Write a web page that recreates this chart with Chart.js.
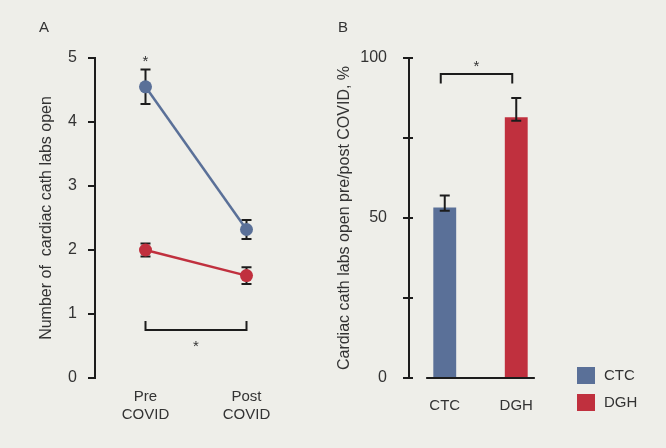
<!DOCTYPE html>
<html>
<head>
<meta charset="utf-8">
<script src="https://cdn.jsdelivr.net/npm/chart.js@4"></script>
<style>
  html, body { margin: 0; padding: 0; background: #eeeee9; }
  #wrap { position: relative; width: 666px; height: 448px; }
  canvas { position: absolute; top: 0; }
  #cA { left: 0; }
  #cB { left: 333px; }
  .lbl { position: absolute; font: 15px "Liberation Sans", sans-serif; color: #333; }
</style>
</head>
<body>
<div id="wrap">
  <canvas id="cA" width="333" height="448"></canvas>
  <canvas id="cB" width="333" height="448"></canvas>
  <div class="lbl" style="left:39px;top:18px;">A</div>
  <div class="lbl" style="left:338px;top:18px;">B</div>
</div>
<script>
// Panel A: labs open pre/post COVID
const periodos = [['Pre', 'COVID'], ['Post', 'COVID']];
const ctcMedia = [4.55, 2.32];
const ctcError = [0.27, 0.15];
const dghMedia = [2.0, 1.6];
const dghError = [0.1, 0.13];

// Panel B: % open pre/post
const centros = ['CTC', 'DGH'];
const porcentaje = [53.3, 81.5];
const porcentajeErrSup = [3.7, 6.0];
const porcentajeErrInf = [1.0, 1.1];

const azul = '#5a7098';
const rojo = '#c0303e';
const negro = '#1c1c1c';
const texto = '#333333';
const fuente = '"Liberation Sans", sans-serif';

Chart.defaults.font.family = fuente;
Chart.defaults.color = texto;
Chart.defaults.animation = false;

// barras de error (usa los arrays de cada dataset)
function dibujarErrores(chart) {
  const ctx = chart.ctx;
  ctx.save();
  ctx.strokeStyle = negro;
  ctx.lineWidth = 2;
  chart.data.datasets.forEach((ds, i) => {
    if (!ds.errSup) return;
    const meta = chart.getDatasetMeta(i);
    meta.data.forEach((el, j) => {
      if (ds.data[j] == null) return;
      const y = chart.scales.y;
      const x = el.x;
      const top = y.getPixelForValue(ds.data[j] + ds.errSup[j]);
      const bot = y.getPixelForValue(ds.data[j] - ds.errInf[j]);
      ctx.beginPath();
      ctx.moveTo(x, top); ctx.lineTo(x, bot);
      ctx.moveTo(x - 5, top); ctx.lineTo(x + 5, top);
      ctx.moveTo(x - 5, bot); ctx.lineTo(x + 5, bot);
      ctx.stroke();
    });
  });
  ctx.restore();
}

new Chart(document.getElementById('cA'), {
  type: 'line',
  data: {
    labels: periodos,
    datasets: [
      {
        label: 'CTC', data: ctcMedia, errSup: ctcError, errInf: ctcError,
        borderColor: azul, backgroundColor: azul, borderWidth: 2.5,
        pointRadius: 6.5, pointBorderWidth: 0
      },
      {
        label: 'DGH', data: dghMedia, errSup: dghError, errInf: dghError,
        borderColor: rojo, backgroundColor: rojo, borderWidth: 2.5,
        pointRadius: 6.5, pointBorderWidth: 0
      }
    ]
  },
  options: {
    responsive: false,
    layout: { padding: { left: 35, top: 58, right: 36, bottom: 0 } },
    plugins: { legend: { display: false }, tooltip: { enabled: false } },
    scales: {
      x: {
        offset: true,
        grid: { display: false, drawTicks: false },
        border: { display: false },
        ticks: { padding: 10, font: { size: 15 }, color: texto },
        afterFit: s => { s.height = 70; }
      },
      y: {
        min: 0, max: 5,
        ticks: { stepSize: 1, padding: 11, font: { size: 16 }, color: texto },
        grid: { drawOnChartArea: false, tickLength: 7, color: negro, lineWidth: 2 },
        border: { display: true, color: negro, width: 2 },
        title: { display: true, text: 'Number of  cardiac cath labs open', font: { size: 16 }, color: texto, padding: { top: 2, bottom: 0 } },
        afterFit: s => { s.width = 60; }
      }
    }
  },
  plugins: [{
    id: 'erroresA',
    beforeDatasetsDraw: dibujarErrores
  }, {
    id: 'signifA',
    afterDraw(chart) {
      const ctx = chart.ctx, x = chart.scales.x, y = chart.scales.y;
      const x0 = x.getPixelForValue(0), x1 = x.getPixelForValue(1);
      const yb = y.getPixelForValue(0.75);
      ctx.save();
      ctx.strokeStyle = negro; ctx.lineWidth = 2;
      ctx.beginPath();
      ctx.moveTo(x0, yb - 9); ctx.lineTo(x0, yb); ctx.lineTo(x1, yb); ctx.lineTo(x1, yb - 9);
      ctx.stroke();
      ctx.fillStyle = texto; ctx.font = '15px ' + fuente; ctx.textAlign = 'center';
      ctx.fillText('*', (x0 + x1) / 2, yb + 21);
      ctx.fillText('*', x0, y.getPixelForValue(ctcMedia[0] + ctcError[0]) - 4);
      ctx.restore();
    }
  }]
});

new Chart(document.getElementById('cB'), {
  type: 'bar',
  data: {
    labels: centros,
    datasets: [
      {
        label: 'CTC', data: [porcentaje[0], null],
        errSup: [porcentajeErrSup[0], null], errInf: [porcentajeErrInf[0], null],
        backgroundColor: azul
      },
      {
        label: 'DGH', data: [null, porcentaje[1]],
        errSup: [null, porcentajeErrSup[1]], errInf: [null, porcentajeErrInf[1]],
        backgroundColor: rojo
      }
    ]
  },
  options: {
    responsive: false,
    layout: { padding: { left: 0, top: 58, right: 114, bottom: 0 } },
    datasets: { bar: { grouped: false, barPercentage: 0.32, categoryPercentage: 1 } },
    plugins: { legend: { display: false }, tooltip: { enabled: false } },
    scales: {
      x: {
        offset: true,
        grid: { display: false, drawTicks: false },
        border: { display: false },
        ticks: { padding: 19, font: { size: 15 }, color: texto },
        afterFit: s => { s.height = 70; }
      },
      y: {
        min: 0, max: 100,
        ticks: {
          stepSize: 25, padding: 16, font: { size: 16 }, color: texto,
          callback: v => (v % 50 === 0 ? v : '')
        },
        grid: { drawOnChartArea: false, tickLength: 6, color: negro, lineWidth: 2 },
        border: { display: true, color: negro, width: 2 },
        title: { display: true, text: 'Cardiac cath labs open pre/post COVID, %', font: { size: 16 }, color: texto, padding: { top: 2, bottom: 0 } },
        afterFit: s => { s.width = 76; }
      }
    }
  },
  plugins: [{
    id: 'erroresB',
    afterDatasetsDraw: dibujarErrores
  }, {
    id: 'extrasB',
    afterDraw(chart) {
      const ctx = chart.ctx, x = chart.scales.x, y = chart.scales.y;
      const x0 = x.getPixelForValue(0), x1 = x.getPixelForValue(1);
      const paso = x1 - x0;
      ctx.save();
      ctx.strokeStyle = negro; ctx.lineWidth = 2;
      // marcas interiores del eje y
      ctx.beginPath();
      y.ticks.forEach(t => {
        const py = y.getPixelForValue(t.value);
        ctx.moveTo(chart.chartArea.left, py); ctx.lineTo(chart.chartArea.left + 4, py);
      });
      // línea base
      const yb0 = y.getPixelForValue(0);
      ctx.moveTo(x0 - paso * 0.26, yb0); ctx.lineTo(x1 + paso * 0.26, yb0);
      ctx.stroke();
      // corchete de significancia
      const yc = y.getPixelForValue(95);
      const yl = y.getPixelForValue(92);
      const cx0 = x0 - 4, cx1 = x1 - 4;
      ctx.beginPath();
      ctx.moveTo(cx0, yl); ctx.lineTo(cx0, yc); ctx.lineTo(cx1, yc); ctx.lineTo(cx1, yl);
      ctx.stroke();
      ctx.fillStyle = texto; ctx.font = '15px ' + fuente; ctx.textAlign = 'center';
      ctx.fillText('*', (cx0 + cx1) / 2, yc - 3);
      // leyenda
      ctx.textAlign = 'left'; ctx.textBaseline = 'middle';
      chart.data.datasets.forEach((ds, i) => {
        const lx = chart.chartArea.right + 25;
        const ly = yb0 - 11 + i * 27;
        ctx.fillStyle = ds.backgroundColor;
        ctx.fillRect(lx, ly, 18, 17);
        ctx.fillStyle = texto;
        ctx.fillText(ds.label, lx + 27, ly + 9);
      });
      ctx.restore();
    }
  }]
});
</script>
</body>
</html>
